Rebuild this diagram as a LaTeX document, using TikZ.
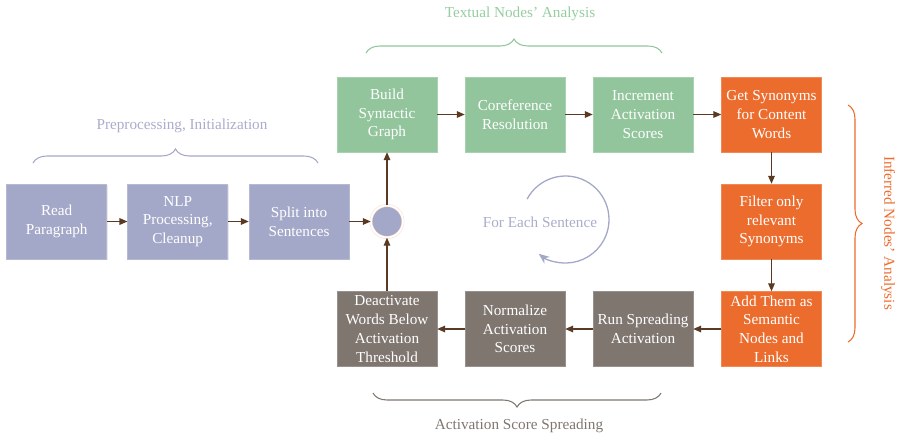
\documentclass[tikz,border=0pt]{standalone}
\usepackage{fontspec}
\setmainfont{Liberation Serif}
\usepackage{tikz}
\usetikzlibrary{positioning,arrows.meta,decorations.pathreplacing,shadows}
\definecolor{lav}{RGB}{164,168,200}
\definecolor{lavtxt}{RGB}{170,172,204}
\definecolor{sage}{RGB}{146,197,155}
\definecolor{sagetxt}{RGB}{150,205,160}
\definecolor{rust}{RGB}{236,108,45}
\definecolor{taupe}{RGB}{127,118,112}
\definecolor{umber}{RGB}{90,58,34}

\begin{document}
\begin{tikzpicture}[
  x=0.03cm, y=-0.03cm,
  font=\fontsize{13}{16}\selectfont,
  box/.style={rectangle, align=center, text=white, inner sep=0pt,
              minimum width=3cm, minimum height=2.25cm,
              drop shadow={opacity=0.18, shadow xshift=0.8pt, shadow yshift=-0.8pt}},
  prep/.style={box, fill=lav, draw=lav!80!white},
  txt/.style={box, fill=sage, draw=sage!80!white},
  inf/.style={box, fill=rust, draw=rust!80!white},
  act/.style={box, fill=taupe, draw=taupe!80!white},
  hub/.style={circle, fill=lav, minimum size=0.96cm, inner sep=0pt,
              draw=rust!25, double=white, double distance=1.6pt},
  ar/.style={-{Triangle[length=2.4mm,width=2mm]}, draw=umber, line width=0.95pt},
  brc/.style={decorate, decoration={brace, amplitude=0.42cm}, line width=0.9pt},
  grp/.style={font=\fontsize{13}{16}\selectfont},
]
\useasboundingbox (0,0) rectangle (899,436);

% preprocessing row
\node[prep] (read)  at (56.7,221.5)  {Read\\Paragraph};
\node[prep] (nlp)   at (177.7,221.5) {NLP\\Processing,\\Cleanup};
\node[prep] (split) at (299,221.5)   {Split into\\Sentences};
\node[hub]  (hub)   at (387,221.5)   {};

% textual nodes
\node[txt] (build) at (387,114.5) {Build\\Syntactic\\Graph};
\node[txt] (coref) at (515,114.5) {Coreference\\Resolution};
\node[txt] (incr)  at (643,114.5) {Increment\\Activation\\Scores};

% inferred nodes
\node[inf] (getsyn) at (771.5,114.5) {Get Synonyms\\for Content\\Words};
\node[inf] (filter) at (771.5,221.5) {Filter only\\relevant\\Synonyms};
\node[inf] (addsem) at (771.5,329)   {Add Them as\\Semantic\\Nodes and\\Links};

% activation spreading
\node[act] (runsp) at (643,329) {Run Spreading\\Activation};
\node[act] (norm)  at (515,329) {Normalize\\Activation\\Scores};
\node[act] (deact) at (387,329) {Deactivate\\Words Below\\Activation\\Threshold};

\draw[ar] (read) -- (nlp);
\draw[ar] (nlp) -- (split);
\draw[ar] (split) -- (hub);
\draw[ar] (hub) -- (build);
\draw[ar] (build) -- (coref);
\draw[ar] (coref) -- (incr);
\draw[ar] (incr) -- (getsyn);
\draw[ar] (getsyn) -- (filter);
\draw[ar] (filter) -- (addsem);
\draw[ar] (addsem) -- (runsp);
\draw[ar] (runsp) -- (norm);
\draw[ar] (norm) -- (deact);
\draw[ar] (deact) -- (hub);

% loop
\coordinate (loopc) at (565.5,219.5);
\node[grp, text=lavtxt] (each) at (540,222) {For Each Sentence};
\draw[-{Stealth[length=3.2mm,width=2.6mm]}, draw=lav, line width=1.1pt]
  ([shift={(152:1.305cm)}]loopc) arc[start angle=152, end angle=-128, radius=1.305cm];

% group braces
\draw[brc, draw=lav]   (33,163) -- (318,163);
\draw[brc, draw=sage]  (366,53) -- (662,53);
\draw[brc, draw=taupe] (661,393) -- (373,393);
\draw[brc, draw=rust]  (848,105) -- (848,342);

\node[grp, text=lavtxt]  (lprep) at (182,126) {Preprocessing, Initialization};
\node[grp, text=sagetxt] (ltxt)  at (520,14)  {Textual Nodes’ Analysis};
\node[grp, text=taupe]   (lact)  at (519,426) {Activation Score Spreading};
\node[grp, text=rust, rotate=-90] (linf) at (888,233) {Inferred Nodes’ Analysis};

\end{tikzpicture}
\end{document}
